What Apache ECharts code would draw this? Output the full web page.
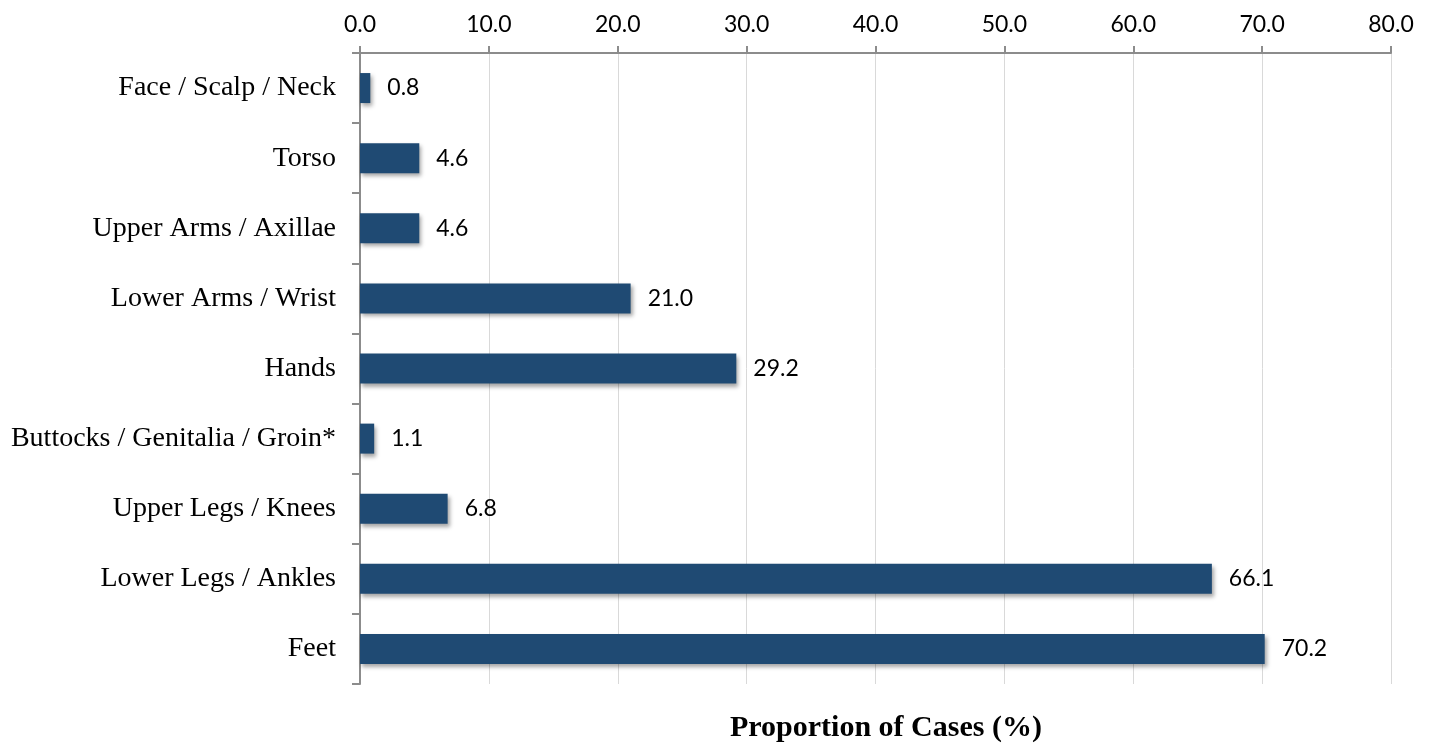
<!DOCTYPE html>
<html>
<head>
<meta charset="utf-8">
<style>
  html, body { margin: 0; padding: 0; background: #ffffff; }
  #chart { width: 1429px; height: 745px; }
</style>
<script src="https://cdn.jsdelivr.net/npm/echarts@6/dist/echarts.min.js"></script>
</head>
<body>
<div id="chart"></div>
<script>
// Body regions, listed top to bottom
const regions = [
  'Face / Scalp / Neck',
  'Torso',
  'Upper Arms / Axillae',
  'Lower Arms / Wrist',
  'Hands',
  'Buttocks / Genitalia / Groin*',
  'Upper Legs / Knees',
  'Lower Legs / Ankles',
  'Feet'
];
// Proportion of cases per region (%)
const proportions = [0.8, 4.6, 4.6, 21.0, 29.2, 1.1, 6.8, 66.1, 70.2];

const axisTitle = 'Proportion of Cases (%)';

const chart = echarts.init(document.getElementById('chart'), null, { renderer: 'canvas' });

chart.setOption({
  animation: false,
  backgroundColor: '#ffffff',
  grid: { left: 360, right: 38, top: 53, bottom: 61, containLabel: false },
  xAxis: {
    type: 'value',
    position: 'top',
    min: 0,
    max: 80,
    interval: 10,
    axisLine: { show: true, lineStyle: { color: '#8c8c8c', width: 2 } },
    axisTick: { show: true, length: 7, lineStyle: { color: '#8c8c8c', width: 2 } },
    splitLine: { show: true, lineStyle: { color: '#d9d9d9', width: 1 } },
    axisLabel: {
      formatter: v => v.toFixed(1),
      fontFamily: 'Lato, "Open Sans", sans-serif',
      fontSize: 23,
      color: '#000000',
      margin: 17
    }
  },
  yAxis: {
    type: 'category',
    inverse: true,
    data: regions,
    axisLine: { show: true, lineStyle: { color: '#8c8c8c', width: 2 } },
    axisTick: { show: true, length: 8, lineStyle: { color: '#8c8c8c', width: 2 } },
    splitLine: { show: false },
    axisLabel: {
      fontFamily: '"Liberation Serif", "DejaVu Serif", serif',
      fontSize: 28,
      color: '#000000',
      margin: 24,
      padding: [12, 0, 0, 0]
    }
  },
  series: [{
    type: 'bar',
    data: proportions,
    barWidth: 30,
    itemStyle: {
      color: '#1f4a73',
      shadowColor: 'rgba(0,0,0,0.35)',
      shadowBlur: 4,
      shadowOffsetX: 2,
      shadowOffsetY: 3
    },
    label: {
      show: true,
      position: 'right',
      distance: 17,
      formatter: p => p.value.toFixed(1),
      fontFamily: 'Lato, "Open Sans", sans-serif',
      fontSize: 23,
      color: '#000000',
      padding: [8, 0, 0, 0]
    }
  }],
  graphic: [{
    type: 'text',
    left: 730,
    top: 713,
    style: {
      text: axisTitle,
      fontFamily: '"Liberation Serif", "DejaVu Serif", serif',
      fontWeight: 'bold',
      fontSize: 30,
      fill: '#000000'
    }
  }]
});
</script>
</body>
</html>
